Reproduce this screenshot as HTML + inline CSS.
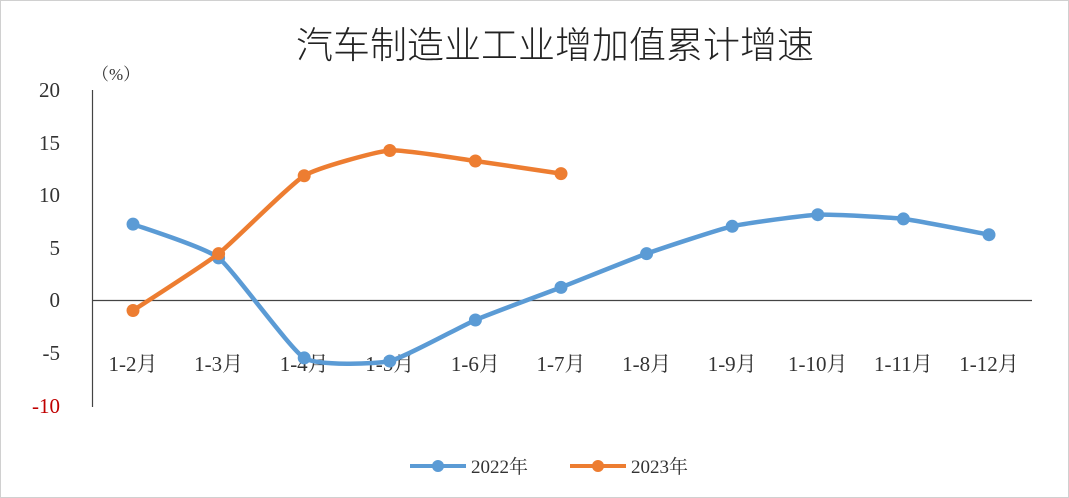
<!DOCTYPE html>
<html><head><meta charset="utf-8"><style>
html,body{margin:0;padding:0;background:#fff;}
body{width:1069px;height:498px;overflow:hidden;}
svg{display:block;}
</style></head><body>
<svg id="s" width="1069" height="498" xmlns="http://www.w3.org/2000/svg">
<rect x="0.5" y="0.5" width="1068" height="497" fill="#fff" stroke="#d0d0d0"/>
<text x="555" y="58" text-anchor="middle" font-family="'Noto Sans CJK SC',sans-serif" font-size="37" font-weight="300" fill="#222">汽车制造业工业增加值累计增速</text>
<text x="92" y="80" font-family="'Liberation Serif','Noto Serif CJK SC',serif" font-size="17" fill="#333">（%）</text>
<g font-family="'Liberation Serif',serif" font-size="21" fill="#333" text-anchor="end">
<text x="60" y="97">20</text>
<text x="60" y="150">15</text>
<text x="60" y="202">10</text>
<text x="60" y="255">5</text>
<text x="60" y="307">0</text>
<text x="60" y="360">-5</text>
<text x="60" y="413" fill="#c00000">-10</text>
</g>
<line x1="92.5" y1="90" x2="92.5" y2="407" stroke="#444" stroke-width="1.2"/>
<line x1="92" y1="300.5" x2="1032" y2="300.5" stroke="#444" stroke-width="1.2"/>
<g id="xl" font-family="'Liberation Serif','Noto Serif CJK SC',serif" font-size="21" fill="#333" text-anchor="middle"></g>
<g id="lines"></g>
<g font-family="'Liberation Serif','Noto Serif CJK SC',serif" font-size="19" fill="#333">
<line x1="410" y1="466" x2="466" y2="466" stroke="#5b9bd5" stroke-width="4"/>
<circle cx="438" cy="466" r="6" fill="#5b9bd5"/>
<text x="471" y="473">2022年</text>
<line x1="570" y1="466" x2="626" y2="466" stroke="#ed7d31" stroke-width="4"/>
<circle cx="598" cy="466" r="6" fill="#ed7d31"/>
<text x="631" y="473">2023年</text>
</g>
</svg>
<script>
var ns="http://www.w3.org/2000/svg";
var xs=[],labs=["1-2月","1-3月","1-4月","1-5月","1-6月","1-7月","1-8月","1-9月","1-10月","1-11月","1-12月"];
for(var i=0;i<11;i++)xs.push(133+i*85.6);
var xl=document.getElementById("xl");
labs.forEach(function(l,i){var t=document.createElementNS(ns,"text");t.setAttribute("x",xs[i]);t.setAttribute("y",371);t.textContent=l;xl.appendChild(t);});
function Y(v){return 300-v*10.53;}
function draw(d,c){
 var p=d.map(function(v,i){return [xs[i],Y(v)];});
 var s="M"+p[0][0]+","+p[0][1];
 for(var i=0;i<p.length-1;i++){
  var p0=p[i-1]||p[i],p1=p[i],p2=p[i+1],p3=p[i+2]||p2,k=0.08;
  s+=" C"+(p1[0]+(p2[0]-p0[0])*k)+","+(p1[1]+(p2[1]-p0[1])*k)+" "+(p2[0]-(p3[0]-p1[0])*k)+","+(p2[1]-(p3[1]-p1[1])*k)+" "+p2[0]+","+p2[1];
 }
 var g=document.getElementById("lines");
 var pa=document.createElementNS(ns,"path");pa.setAttribute("d",s);pa.setAttribute("fill","none");pa.setAttribute("stroke",c);pa.setAttribute("stroke-width","4.5");pa.setAttribute("stroke-linejoin","round");g.appendChild(pa);
 p.forEach(function(q){var ci=document.createElementNS(ns,"circle");ci.setAttribute("cx",q[0]);ci.setAttribute("cy",q[1]);ci.setAttribute("r",6.5);ci.setAttribute("fill",c);g.appendChild(ci);});
}
draw([7.2,4.0,-5.5,-5.8,-1.9,1.2,4.4,7.0,8.1,7.7,6.2],"#5b9bd5");
draw([-1.0,4.4,11.8,14.2,13.2,12.0],"#ed7d31");
</script>
</body></html>
